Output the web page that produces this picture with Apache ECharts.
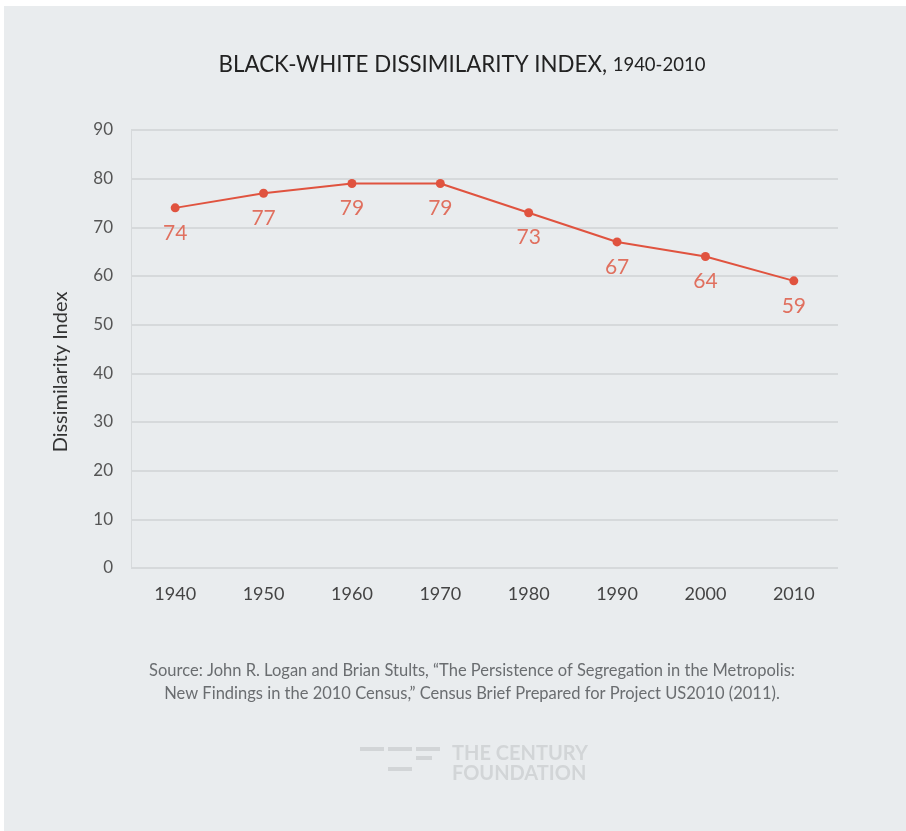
<!DOCTYPE html>
<html>
<head>
<meta charset="utf-8">
<script src="https://cdn.jsdelivr.net/npm/echarts@6/dist/echarts.min.js"></script>
<style>
  html, body { margin: 0; padding: 0; background: #ffffff; }
  #chart { width: 906px; height: 831px; }
</style>
</head>
<body>
<div id="chart"></div>
<script>
// data
var years = ['1940', '1950', '1960', '1970', '1980', '1990', '2000', '2010'];
var dissimilarity = [74, 77, 79, 79, 73, 67, 64, 59];
var yTicks = { min: 0, max: 90, interval: 10 };

var titleMain = 'BLACK-WHITE DISSIMILARITY INDEX, ';
var titleYears = '1940-2010';
var sourceLines = [
    'Source: John R. Logan and Brian Stults, \u201CThe Persistence of Segregation in the Metropolis:',
    'New Findings in the 2010 Census,\u201D Census Brief Prepared for Project US2010 (2011).'
];

var red = '#e0533f';
var font = 'Lato, "Open Sans", sans-serif';

function init() {
    var chart = echarts.init(document.getElementById('chart'));

    var option = {
        backgroundColor: '#ffffff',
        animation: false,
        grid: { left: 131, right: 68, top: 130, bottom: 263 },
        xAxis: {
            type: 'category',
            data: years,
            boundaryGap: true,
            axisLine: { show: false },
            axisTick: { show: false },
            axisLabel: { color: '#444', fontSize: 18, fontFamily: font, margin: 17 }
        },
        yAxis: {
            type: 'value',
            min: yTicks.min,
            max: yTicks.max,
            interval: yTicks.interval,
            axisLine: { show: true, lineStyle: { color: '#d6d9db', width: 1 } },
            axisTick: { show: false },
            axisLabel: { color: '#555', fontSize: 17, fontFamily: font, margin: 18 },
            splitLine: { lineStyle: { color: '#d6d9db', width: 2 } }
        },
        series: [{
            type: 'line',
            data: dissimilarity,
            symbol: 'circle',
            symbolSize: 9,
            itemStyle: { color: red },
            lineStyle: { color: red, width: 2 },
            label: {
                show: true,
                position: 'bottom',
                distance: 10,
                color: '#e0705f',
                fontSize: 21,
                fontFamily: font
            },
            z: 5
        }],
        graphic: [
            // panel background
            { type: 'rect', z: -10, silent: true, shape: { x: 4, y: 6, width: 910, height: 830 }, style: { fill: '#e9ecee' } },
            {
                type: 'text', x: 462, y: 54,
                style: {
                    text: '{a|' + titleMain + '}{b|' + titleYears + '}',
                    align: 'center',
                    rich: {
                        a: { fontSize: 22.3, fontFamily: font, fill: '#222' },
                        b: { fontSize: 18.5, fontFamily: font, fill: '#222' }
                    }
                }
            },
            {
                type: 'text', x: 51, y: 372, rotation: Math.PI / 2,
                style: {
                    text: 'Dissimilarity Index', fontSize: 20, fontFamily: font,
                    fill: '#333', align: 'center', verticalAlign: 'top'
                }
            },
            {
                type: 'text', x: 472, y: 659,
                style: {
                    text: sourceLines.join('\n'), fontSize: 16.5, lineHeight: 23,
                    fontFamily: font, fill: '#6a6d70', align: 'center'
                }
            },
            // logo
            { type: 'rect', shape: { x: 360, y: 747, width: 24, height: 4 }, style: { fill: '#d2d5d7' } },
            { type: 'rect', shape: { x: 388, y: 747, width: 24, height: 4 }, style: { fill: '#d2d5d7' } },
            { type: 'rect', shape: { x: 416, y: 747, width: 24, height: 4 }, style: { fill: '#d2d5d7' } },
            { type: 'rect', shape: { x: 416, y: 756, width: 16, height: 4 }, style: { fill: '#d2d5d7' } },
            { type: 'rect', shape: { x: 388, y: 767, width: 24, height: 4 }, style: { fill: '#d2d5d7' } },
            {
                type: 'text', x: 452, y: 744,
                style: {
                    text: 'THE CENTURY\nFOUNDATION', fontSize: 20, lineHeight: 20,
                    fontWeight: 'bold', fontFamily: font, fill: '#d2d5d7'
                }
            }
        ]
    };

    chart.setOption(option);
}

window.addEventListener('load', init, false);
</script>
</body>
</html>
